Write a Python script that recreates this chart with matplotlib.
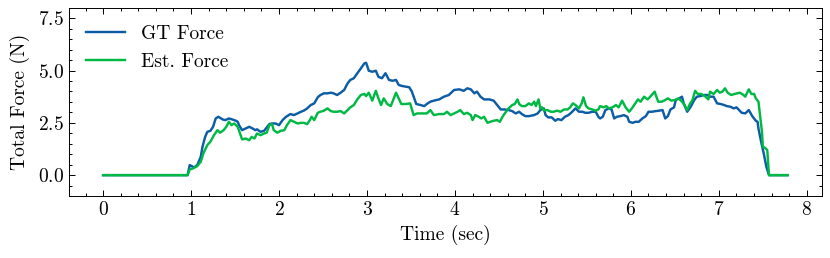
import matplotlib
matplotlib.use('Agg')
import matplotlib.pyplot as plt
from matplotlib.ticker import AutoMinorLocator

# 数据：力曲线
gt_time = [0, 0.96, 0.985, 1.034, 1.07, 1.11, 1.13, 1.16, 1.185, 1.22, 1.25, 1.28, 1.31,
           1.36, 1.39, 1.43, 1.47, 1.51, 1.53, 1.545, 1.58, 1.62, 1.66, 1.70, 1.73, 1.75,
           1.79, 1.83, 1.89, 1.92, 1.96, 2.0, 2.04, 2.08, 2.13, 2.17, 2.21, 2.25, 2.28,
           2.32, 2.36, 2.40, 2.44, 2.47, 2.51, 2.55, 2.59, 2.62, 2.66, 2.70, 2.74, 2.78,
           2.81, 2.85, 2.89, 2.93, 2.97, 2.99, 3.02, 3.06, 3.10, 3.13, 3.17, 3.21, 3.25,
           3.29, 3.33, 3.36, 3.40, 3.44, 3.48, 3.51, 3.53, 3.56, 3.61, 3.65, 3.69, 3.72,
           3.76, 3.82, 3.875, 3.93, 3.99, 4.05, 4.10, 4.14, 4.18, 4.22, 4.25, 4.29, 4.33,
           4.39, 4.44, 4.48, 4.52, 4.56, 4.61, 4.65, 4.69, 4.73, 4.76, 4.80, 4.84, 4.90,
           4.94, 4.97, 5.01, 5.03, 5.06, 5.10, 5.14, 5.17, 5.21, 5.25, 5.29, 5.32, 5.37,
           5.41, 5.45, 5.48, 5.52, 5.56, 5.60, 5.63, 5.65, 5.68, 5.71, 5.75, 5.78, 5.81,
           5.84, 5.88, 5.92, 5.96, 5.98, 6.02, 6.05, 6.09, 6.13, 6.17, 6.20, 6.24, 6.28,
           6.32, 6.36, 6.39, 6.42, 6.45, 6.49, 6.51, 6.55, 6.58, 6.60, 6.64, 6.68, 6.72,
           6.75, 6.79, 6.83, 6.87, 6.90, 6.94, 6.98, 7.02, 7.06, 7.09, 7.13, 7.17, 7.20,
           7.23, 7.26, 7.30, 7.34, 7.38, 7.42, 7.44, 7.45, 7.48, 7.51, 7.54, 7.57, 7.78]
gt_force = [0, 0, 0.48, 0.37, 0.48, 0.88, 1.36, 1.83, 2.07, 2.12, 2.31, 2.71, 2.79,
            2.66, 2.63, 2.71, 2.66, 2.60, 2.55, 2.39, 2.15, 2.23, 2.31, 2.23, 2.15, 2.19,
            2.07, 2.12, 2.44, 2.47, 2.47, 2.39, 2.63, 2.79, 2.92, 2.87, 2.95, 3.03, 3.08,
            3.19, 3.35, 3.43, 3.72, 3.83, 3.91, 3.91, 3.94, 3.91, 3.83, 3.94, 4.07, 4.39,
            4.55, 4.63, 4.87, 5.10, 5.34, 5.37, 4.99, 4.94, 4.99, 4.70, 4.63, 4.87, 4.55,
            4.51, 4.55, 4.31, 4.26, 4.23, 4.20, 3.99, 3.75, 3.40, 3.35, 3.30, 3.43, 3.51,
            3.56, 3.62, 3.75, 3.83, 4.07, 4.10, 4.03, 4.15, 4.10, 3.91, 3.99, 3.75, 3.62,
            3.62, 3.56, 3.35, 3.14, 3.14, 3.11, 3.06, 2.95, 3.03, 2.92, 2.82, 2.82, 2.87,
            2.95, 3.11, 3.19, 2.87, 2.76, 2.76, 2.60, 2.68, 2.63, 2.79, 2.87, 2.98, 3.19,
            3.03, 3.03, 2.98, 2.98, 3.03, 3.03, 2.79, 2.71, 2.79, 3.11, 3.19, 3.14, 2.71,
            2.79, 2.82, 2.87, 2.79, 2.55, 2.50, 2.55, 2.55, 2.71, 2.82, 3.03, 3.03, 3.06,
            3.08, 3.11, 2.71, 2.82, 3.14, 3.24, 3.59, 3.67, 3.75, 3.43, 3.03, 3.27, 3.59,
            3.75, 3.78, 3.83, 3.83, 3.75, 3.75, 3.43, 3.40, 3.35, 3.30, 3.27, 3.19, 3.24,
            3.11, 2.98, 2.95, 3.11, 2.82, 2.60, 2.55, 2.23, 1.60, 1.04, 0.40, 0, 0]

est_time = [0, 0.96, 0.985, 1.02, 1.07, 1.11, 1.14, 1.185, 1.22, 1.26, 1.30, 1.33, 1.37,
            1.40, 1.43, 1.46, 1.49, 1.53, 1.55, 1.58, 1.62, 1.66, 1.69, 1.72, 1.75, 1.79,
            1.83, 1.86, 1.89, 1.92, 1.94, 1.98, 2.02, 2.06, 2.09, 2.13, 2.17, 2.21, 2.25,
            2.28, 2.32, 2.35, 2.37, 2.40, 2.44, 2.47, 2.51, 2.55, 2.59, 2.62, 2.66, 2.70,
            2.74, 2.78, 2.81, 2.85, 2.89, 2.93, 2.97, 2.99, 3.02, 3.06, 3.10, 3.13, 3.16,
            3.19, 3.23, 3.27, 3.33, 3.36, 3.39, 3.44, 3.49, 3.53, 3.57, 3.61, 3.65, 3.68,
            3.72, 3.76, 3.82, 3.875, 3.91, 3.95, 3.99, 4.03, 4.06, 4.10, 4.14, 4.18, 4.20,
            4.23, 4.27, 4.30, 4.33, 4.37, 4.40, 4.44, 4.48, 4.51, 4.54, 4.58, 4.61, 4.65,
            4.68, 4.71, 4.73, 4.76, 4.80, 4.84, 4.87, 4.90, 4.92, 4.95, 4.97, 4.99, 5.01,
            5.05, 5.09, 5.12, 5.16, 5.20, 5.24, 5.28, 5.31, 5.34, 5.37, 5.41, 5.44, 5.46,
            5.49, 5.52, 5.56, 5.60, 5.63, 5.65, 5.69, 5.72, 5.75, 5.79, 5.83, 5.86, 5.90,
            5.94, 5.98, 6.02, 6.05, 6.08, 6.11, 6.15, 6.19, 6.22, 6.27, 6.31, 6.35, 6.39,
            6.42, 6.46, 6.50, 6.54, 6.58, 6.61, 6.64, 6.67, 6.70, 6.73, 6.76, 6.80, 6.84,
            6.88, 6.90, 6.94, 6.98, 7.01, 7.04, 7.07, 7.10, 7.14, 7.18, 7.21, 7.24, 7.28,
            7.30, 7.34, 7.37, 7.40, 7.42, 7.45, 7.47, 7.49, 7.50, 7.52, 7.55, 7.57, 7.78]
est_force = [0, 0, 0.27, 0.32, 0.43, 0.64, 1.04, 1.44, 1.60, 1.91, 2.15, 2.03, 2.15,
             2.31, 2.55, 2.39, 2.47, 2.31, 2.07, 1.71, 1.75, 1.67, 1.83, 1.75, 1.99, 1.91,
             1.99, 2.03, 2.39, 2.44, 2.15, 2.03, 2.12, 2.15, 2.39, 2.63, 2.55, 2.47, 2.50,
             2.50, 2.44, 2.63, 2.79, 2.63, 2.98, 3.03, 3.08, 3.19, 3.06, 3.03, 3.03, 3.06,
             2.95, 3.11, 3.24, 3.35, 3.62, 3.83, 3.88, 3.78, 3.94, 3.56, 4.03, 3.67, 3.35,
             3.67, 3.40, 3.30, 3.94, 3.67, 3.40, 3.40, 3.43, 2.87, 2.95, 2.95, 2.95, 2.95,
             3.11, 2.87, 2.92, 2.92, 3.03, 2.87, 2.95, 3.03, 3.11, 2.92, 2.98, 2.87, 2.63,
             2.87, 2.79, 2.71, 2.79, 2.50, 2.55, 2.60, 2.63, 2.55, 2.79, 3.03, 3.19, 3.35,
             3.40, 3.62, 3.40, 3.30, 3.30, 3.43, 3.35, 3.51, 3.30, 3.62, 3.19, 3.24, 3.11,
             3.11, 3.03, 3.03, 3.08, 3.03, 3.14, 3.14, 3.24, 3.43, 3.35, 3.19, 3.43, 3.72,
             3.30, 3.19, 3.14, 3.08, 3.14, 3.30, 3.24, 3.30, 3.19, 3.24, 3.35, 3.24, 3.56,
             3.24, 3.03, 3.24, 3.43, 3.62, 3.51, 3.75, 3.62, 3.75, 3.99, 3.51, 3.51, 3.59,
             3.67, 3.56, 3.59, 3.67, 3.51, 3.35, 3.11, 3.40, 3.59, 4.03, 3.88, 3.88, 3.78,
             3.62, 3.99, 3.88, 4.07, 3.94, 3.99, 4.15, 3.94, 3.83, 3.88, 3.91, 3.94, 3.83,
             3.75, 4.10, 3.88, 3.88, 3.67, 3.51, 2.79, 2.07, 1.36, 1.32, 1.20, 0, 0]

# science 风格（按图片尺寸放大）
s = 1.4
plt.rcParams['font.family'] = 'serif'
plt.rcParams['font.serif'] = ['cmr10']
plt.rcParams['mathtext.fontset'] = 'cm'
plt.rcParams['axes.formatter.use_mathtext'] = True
plt.rcParams['font.size'] = 10 * s
plt.rcParams['axes.linewidth'] = 0.5 * s
for ax_name in ['xtick', 'ytick']:
    plt.rcParams[f'{ax_name}.direction'] = 'in'
    plt.rcParams[f'{ax_name}.major.size'] = 3 * s
    plt.rcParams[f'{ax_name}.minor.size'] = 1.5 * s
    plt.rcParams[f'{ax_name}.major.width'] = 0.5 * s
    plt.rcParams[f'{ax_name}.minor.width'] = 0.5 * s
    plt.rcParams[f'{ax_name}.minor.visible'] = True
plt.rcParams['xtick.top'] = True
plt.rcParams['ytick.right'] = True

fig, ax = plt.subplots(figsize=(8.3, 2.58), dpi=100)
fig.subplots_adjust(left=0.083, right=0.990, top=0.970, bottom=0.240)

ax.plot(gt_time, gt_force, color='#0C5DA5', lw=1.25 * s, label='GT Force')
ax.plot(est_time, est_force, color='#00B945', lw=1.25 * s, label='Est. Force')

ax.set_ylim(-1, 8)
ax.set_yticks([0, 2.5, 5.0, 7.5])
ax.xaxis.set_minor_locator(AutoMinorLocator(5))
ax.yaxis.set_minor_locator(AutoMinorLocator(5))
ax.set_xlabel('Time (sec)')
ax.set_ylabel('Total Force (N)', labelpad=6)
ax.legend(loc='upper left', frameon=False)

fig.savefig('out.png', dpi=100)
